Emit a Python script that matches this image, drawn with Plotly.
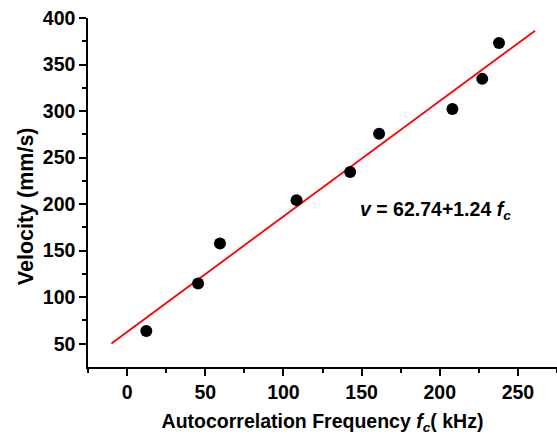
import plotly.graph_objects as go

# Data
freq_khz = [12.3, 45.4, 59.4, 108.4, 142.7, 161.2, 208.1, 227.2, 237.9]
velocity = [63.6, 114.6, 157.7, 204.3, 234.5, 275.7, 302.3, 334.6, 373.1]
fit_x = [-10, 261]
fit_y = [50.3, 386.4]
x_ticks = [0, 50, 100, 150, 200, 250]
y_ticks = [50, 100, 150, 200, 250, 300, 350, 400]

FONT = "Liberation Sans, Arial, sans-serif"
tf = dict(family=FONT, size=19.5, color="black", weight="bold")

fig = go.Figure()
fig.add_trace(go.Scatter(x=fit_x, y=fit_y, mode="lines",
                         line=dict(color="#ff0000", width=1.8), showlegend=False))
fig.add_trace(go.Scatter(x=freq_khz, y=velocity, mode="markers",
                         marker=dict(color="black", size=12), showlegend=False))

fig.add_annotation(x=147.5, y=193, xref="x", yref="y", xanchor="left", yanchor="middle",
                   text="<b><i>v</i> = 62.74+1.24 <i>f</i><sub><i>c</i></sub></b>",
                   showarrow=False, font=tf)

# y-axis title (placed as rotated text, offset like the reference)
fig.add_annotation(x=-0.132, y=0.461, xref="paper", yref="paper",
                   xanchor="center", yanchor="middle", textangle=-90,
                   text="<b>Velocity (mm/s)</b>", showarrow=False,
                   font=dict(family=FONT, size=21.5, color="black", weight="bold"))

axis_common = dict(showgrid=False, zeroline=False, showline=True, linecolor="black",
                   linewidth=1.5, ticks="outside", ticklen=7, tickwidth=1.5,
                   tickcolor="black", tickfont=tf)

fig.update_xaxes(range=[-25, 275], tickvals=x_ticks,
                 ticktext=[f"<b>{v}</b>" for v in x_ticks],
                 minor=dict(ticks="outside", ticklen=4, tickwidth=1.5, tickcolor="black",
                            tickvals=[-25, 25, 75, 125, 175, 225, 275]),
                 title=dict(text="<b>Autocorrelation Frequency <i>f</i><sub><i>c</i></sub>( kHz)</b>",
                            font=tf, standoff=12),
                 **axis_common)
fig.update_yaxes(range=[25, 400], tickvals=y_ticks,
                 ticktext=[f"<b>{v}</b>" for v in y_ticks],
                 minor=dict(ticks="outside", ticklen=4, tickwidth=1.5, tickcolor="black",
                            tickvals=[75, 125, 175, 225, 275, 325, 375]),
                 **axis_common)

fig.update_layout(width=557, height=438, margin=dict(l=88, r=0, t=18, b=71),
                  plot_bgcolor="white", paper_bgcolor="white")

fig.write_html("out.html")
